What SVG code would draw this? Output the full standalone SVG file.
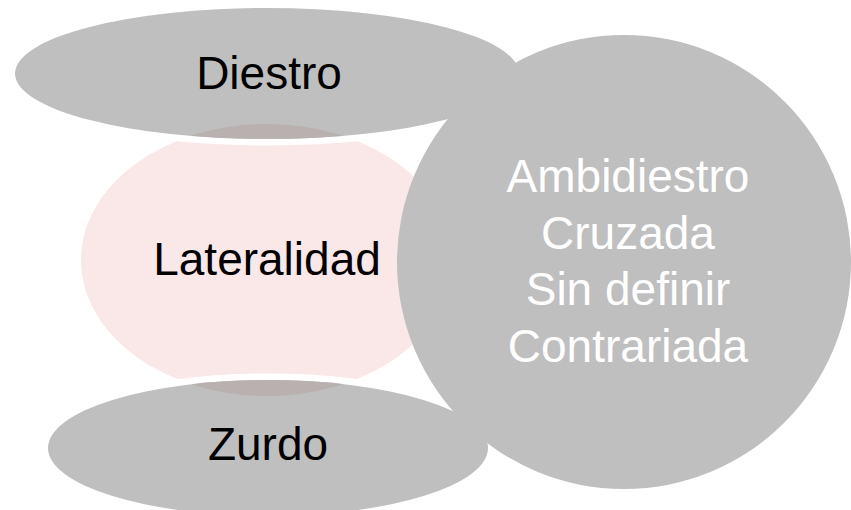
<svg xmlns="http://www.w3.org/2000/svg" width="851" height="510" viewBox="0 0 851 510">
<style>
.g{fill:#bfbfbf}
.ring{fill:#bfbfbf;stroke:#ffffff;stroke-width:13;paint-order:stroke}
.t{font-family:"Liberation Sans",Arial,sans-serif;font-size:46px;text-anchor:middle}
.dark{fill:#000000}
.light{fill:#ffffff}
</style>
<defs>
<clipPath id="cTop"><ellipse cx="267" cy="73.5" rx="252" ry="65.5"/></clipPath>
<clipPath id="cBot"><ellipse cx="268" cy="448" rx="220" ry="68"/></clipPath>
</defs>
<g id="lateralidad">
<ellipse cx="267" cy="260" rx="186" ry="136" fill="#fae7e7"/>
</g>
<g id="diestro">
<ellipse class="ring" cx="267" cy="73.5" rx="252" ry="65.5"/>
<ellipse cx="267" cy="260" rx="186" ry="136" fill="#b9b0b0" clip-path="url(#cTop)"/>
<text class="t dark" x="269" y="89">Diestro</text>
</g>
<g id="zurdo">
<ellipse class="ring" cx="268" cy="448" rx="220" ry="68"/>
<ellipse cx="267" cy="260" rx="186" ry="136" fill="#b9b0b0" clip-path="url(#cBot)"/>
<text class="t dark" x="268" y="460">Zurdo</text>
</g>
<g id="lateralidad-label">
<text class="t dark" x="267" y="275">Lateralidad</text>
</g>
<g id="tipos">
<circle class="g" cx="624" cy="262" r="227"/>
<text class="t light" x="628" y="192">Ambidiestro</text>
<text class="t light" x="628" y="248.5">Cruzada</text>
<text class="t light" x="628" y="305">Sin definir</text>
<text class="t light" x="628" y="362">Contrariada</text>
</g>
<g id="connectors"/>
</svg>
